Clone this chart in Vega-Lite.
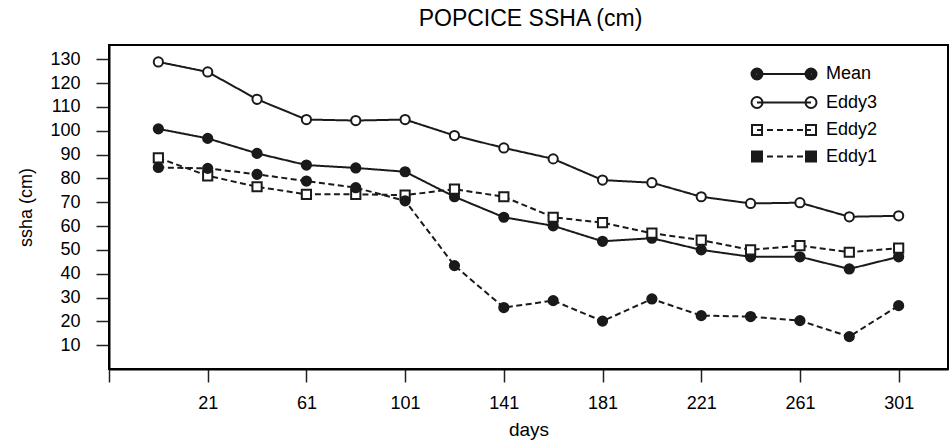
{
  "$schema": "https://vega.github.io/schema/vega-lite/v6.json",
  "width": 839,
  "height": 324,
  "autosize": {"type": "none"},
  "padding": {"left": 109, "top": 45, "right": 1, "bottom": 72},
  "title": {"text": "POPCICE SSHA (cm)", "fontSize": 23, "fontWeight": "normal", "font": "Liberation Sans", "color": "#000", "anchor": "middle", "offset": 14, "dx": 2},
  "data": {"values": [
    {"day": 1, "series": "Mean", "ssha": 100.8}, {"day": 21, "series": "Mean", "ssha": 96.8}, {"day": 41, "series": "Mean", "ssha": 90.5}, {"day": 61, "series": "Mean", "ssha": 85.6},
    {"day": 81, "series": "Mean", "ssha": 84.4}, {"day": 101, "series": "Mean", "ssha": 82.8}, {"day": 121, "series": "Mean", "ssha": 72.3}, {"day": 141, "series": "Mean", "ssha": 63.7},
    {"day": 161, "series": "Mean", "ssha": 60.1}, {"day": 181, "series": "Mean", "ssha": 53.6}, {"day": 201, "series": "Mean", "ssha": 54.9}, {"day": 221, "series": "Mean", "ssha": 50.0},
    {"day": 241, "series": "Mean", "ssha": 47.1}, {"day": 261, "series": "Mean", "ssha": 47.1}, {"day": 281, "series": "Mean", "ssha": 42.0}, {"day": 301, "series": "Mean", "ssha": 47.1},
    {"day": 1, "series": "Eddy3", "ssha": 128.9}, {"day": 21, "series": "Eddy3", "ssha": 124.7}, {"day": 41, "series": "Eddy3", "ssha": 113.2}, {"day": 61, "series": "Eddy3", "ssha": 104.7},
    {"day": 81, "series": "Eddy3", "ssha": 104.3}, {"day": 101, "series": "Eddy3", "ssha": 104.7}, {"day": 121, "series": "Eddy3", "ssha": 98.0}, {"day": 141, "series": "Eddy3", "ssha": 92.8},
    {"day": 161, "series": "Eddy3", "ssha": 88.2}, {"day": 181, "series": "Eddy3", "ssha": 79.3}, {"day": 201, "series": "Eddy3", "ssha": 78.2}, {"day": 221, "series": "Eddy3", "ssha": 72.3},
    {"day": 241, "series": "Eddy3", "ssha": 69.5}, {"day": 261, "series": "Eddy3", "ssha": 69.8}, {"day": 281, "series": "Eddy3", "ssha": 63.9}, {"day": 301, "series": "Eddy3", "ssha": 64.3},
    {"day": 1, "series": "Eddy2", "ssha": 88.6}, {"day": 21, "series": "Eddy2", "ssha": 81.1}, {"day": 41, "series": "Eddy2", "ssha": 76.5}, {"day": 61, "series": "Eddy2", "ssha": 73.3},
    {"day": 81, "series": "Eddy2", "ssha": 73.3}, {"day": 101, "series": "Eddy2", "ssha": 73.0}, {"day": 121, "series": "Eddy2", "ssha": 75.5}, {"day": 141, "series": "Eddy2", "ssha": 72.3},
    {"day": 161, "series": "Eddy2", "ssha": 63.7}, {"day": 181, "series": "Eddy2", "ssha": 61.4}, {"day": 201, "series": "Eddy2", "ssha": 57.0}, {"day": 221, "series": "Eddy2", "ssha": 54.1},
    {"day": 241, "series": "Eddy2", "ssha": 50.0}, {"day": 261, "series": "Eddy2", "ssha": 51.8}, {"day": 281, "series": "Eddy2", "ssha": 49.0}, {"day": 301, "series": "Eddy2", "ssha": 50.7},
    {"day": 1, "series": "Eddy1", "ssha": 84.6}, {"day": 21, "series": "Eddy1", "ssha": 84.2}, {"day": 41, "series": "Eddy1", "ssha": 81.7}, {"day": 61, "series": "Eddy1", "ssha": 78.9},
    {"day": 81, "series": "Eddy1", "ssha": 76.1}, {"day": 101, "series": "Eddy1", "ssha": 70.6}, {"day": 121, "series": "Eddy1", "ssha": 43.4}, {"day": 141, "series": "Eddy1", "ssha": 25.8},
    {"day": 161, "series": "Eddy1", "ssha": 28.7}, {"day": 181, "series": "Eddy1", "ssha": 20.1}, {"day": 201, "series": "Eddy1", "ssha": 29.4}, {"day": 221, "series": "Eddy1", "ssha": 22.4},
    {"day": 241, "series": "Eddy1", "ssha": 22.0}, {"day": 261, "series": "Eddy1", "ssha": 20.3}, {"day": 281, "series": "Eddy1", "ssha": 13.6}, {"day": 301, "series": "Eddy1", "ssha": 26.6}
  ]},
  "encoding": {
    "x": {"field": "day", "type": "quantitative", "scale": {"domain": [-19, 321], "nice": false, "zero": false},
      "axis": {"orient": "bottom", "values": [-19, 21, 61, 101, 141, 181, 221, 261, 301], "labelExpr": "datum.value < 0 ? '' : datum.label", "title": "days", "titleFontSize": 19, "titlePadding": 8, "labelFontSize": 18, "labelPadding": 12, "tickSize": 13, "tickWidth": 1.5, "tickColor": "#222", "domainColor": "#000", "domainWidth": 2, "labelFlush": false, "labelOverlap": false}},
    "y": {"field": "ssha", "type": "quantitative", "scale": {"domain": [0, 136], "nice": false, "zero": false},
      "axis": {"values": [10, 20, 30, 40, 50, 60, 70, 80, 90, 100, 110, 120, 130], "title": "ssha (cm)", "titleFontSize": 18, "titlePadding": 14, "labelFontSize": 18, "labelPadding": 16, "tickSize": 13, "tickWidth": 1.5, "tickColor": "#222", "domainColor": "#000", "domainWidth": 2, "labelFlush": false, "labelOverlap": false}}
  },
  "layer": [
    {
      "mark": {"type": "line", "stroke": "#1a1a1a", "strokeWidth": 2},
      "encoding": {
        "detail": {"field": "series"},
        "strokeDash": {"condition": {"test": "datum.series === 'Eddy2' || datum.series === 'Eddy1'", "value": [6, 3.5]}, "value": [1, 0]}
      }
    },
    {
      "mark": {"type": "point", "filled": true, "stroke": "#1a1a1a", "strokeWidth": 2, "opacity": 1, "size": 85},
      "encoding": {
        "fill": {"condition": {"test": "datum.series === 'Eddy3' || datum.series === 'Eddy2'", "value": "#ffffff"}, "value": "#1a1a1a"},
        "shape": {"condition": {"test": "datum.series === 'Eddy2'", "value": "square"}, "value": "circle"}
      }
    },
    {
      "mark": {"type": "point", "filled": false, "stroke": "#1a1a1a", "strokeWidth": 2, "opacity": 0, "size": 4},
      "encoding": {
        "shape": {"field": "series", "type": "nominal",
          "scale": {"domain": ["Mean", "Eddy3", "Eddy2", "Eddy1"], "range": [
            "M-32.5,0C-32.5,-3.04 -30.04,-5.5 -27,-5.5C-23.96,-5.5 -21.5,-3.04 -21.5,0C-21.5,3.04 -23.96,5.5 -27,5.5C-30.04,5.5 -32.5,3.04 -32.5,0ZM-30.5,0C-30.5,-1.93 -28.93,-3.5 -27,-3.5C-25.07,-3.5 -23.5,-1.93 -23.5,0C-23.5,1.93 -25.07,3.5 -27,3.5C-28.93,3.5 -30.5,1.93 -30.5,0ZM-28.5,0C-28.5,-0.83 -27.83,-1.5 -27,-1.5C-26.17,-1.5 -25.5,-0.83 -25.5,0C-25.5,0.83 -26.17,1.5 -27,1.5C-27.83,1.5 -28.5,0.83 -28.5,0ZM21.5,0C21.5,-3.04 23.96,-5.5 27,-5.5C30.04,-5.5 32.5,-3.04 32.5,0C32.5,3.04 30.04,5.5 27,5.5C23.96,5.5 21.5,3.04 21.5,0ZM23.5,0C23.5,-1.93 25.07,-3.5 27,-3.5C28.93,-3.5 30.5,-1.93 30.5,0C30.5,1.93 28.93,3.5 27,3.5C25.07,3.5 23.5,1.93 23.5,0ZM25.5,0C25.5,-0.83 26.17,-1.5 27,-1.5C27.83,-1.5 28.5,-0.83 28.5,0C28.5,0.83 27.83,1.5 27,1.5C26.17,1.5 25.5,0.83 25.5,0ZM-27,0L27,0",
            "M-32.5,0C-32.5,-3.04 -30.04,-5.5 -27,-5.5C-23.96,-5.5 -21.5,-3.04 -21.5,0C-21.5,3.04 -23.96,5.5 -27,5.5C-30.04,5.5 -32.5,3.04 -32.5,0ZM21.5,0C21.5,-3.04 23.96,-5.5 27,-5.5C30.04,-5.5 32.5,-3.04 32.5,0C32.5,3.04 30.04,5.5 27,5.5C23.96,5.5 21.5,3.04 21.5,0ZM-27,0L27,0",
            "M-32,-5L-22,-5L-22,5L-32,5ZM22,-5L32,-5L32,5L22,5ZM-27,0L-21,0M-17,0L-11,0M-7,0L-1,0M3,0L9,0M13,0L19,0M23,0L27,0",
            "M-32,-5L-22,-5L-22,5L-32,5ZM-30,-3L-24,-3L-24,3L-30,3ZM-28,-1L-26,-1L-26,1L-28,1ZM22,-5L32,-5L32,5L22,5ZM24,-3L30,-3L30,3L24,3ZM26,-1L28,-1L28,1L26,1ZM-27,0L-21,0M-17,0L-11,0M-7,0L-1,0M3,0L9,0M13,0L19,0M23,0L27,0"
          ]},
          "legend": {"orient": "none", "legendX": 666, "legendY": 20, "title": null, "padding": 0, "symbolSize": 4, "symbolStrokeWidth": 2, "symbolStrokeColor": "#1a1a1a", "symbolOpacity": 1, "labelFontSize": 18, "labelOffset": 33, "labelColor": "#000", "rowPadding": 8.5, "labelBaseline": "middle"}}
      }
    }
  ],
  "config": {
    "font": "Liberation Sans",
    "view": {"stroke": "#000", "strokeWidth": 2},
    "axis": {"grid": false, "labelColor": "#000", "titleColor": "#000", "titleFontWeight": "normal", "titleFont": "Liberation Sans", "labelFont": "Liberation Sans"},
    "legend": {"labelFont": "Liberation Sans"}
  }
}
